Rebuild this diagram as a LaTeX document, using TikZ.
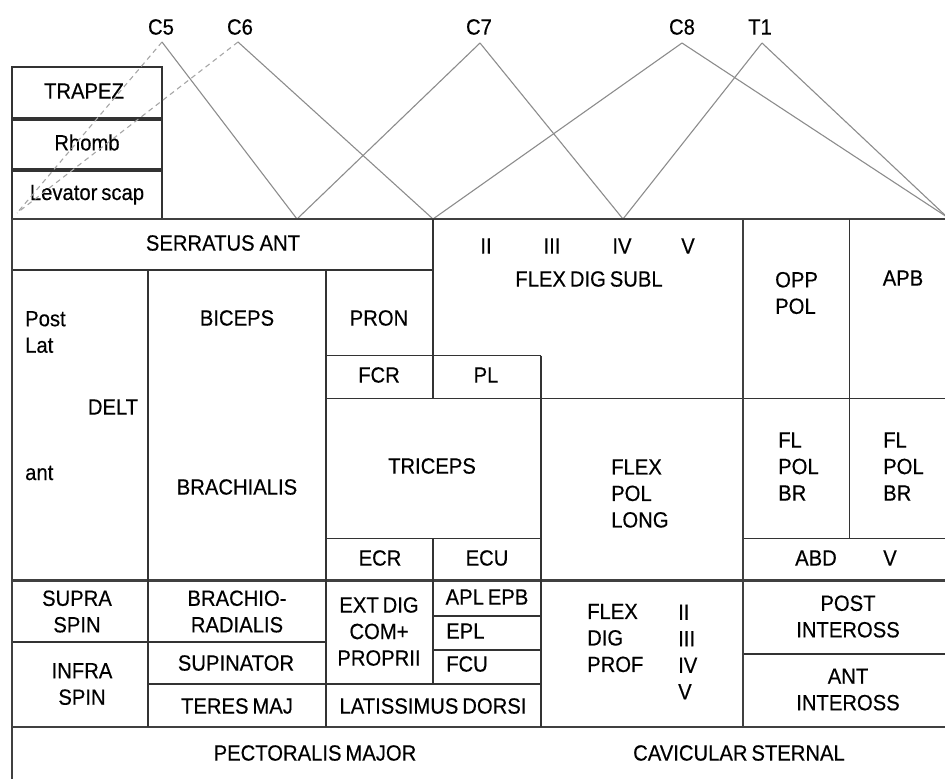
\documentclass[tikz,border=0pt]{standalone}
\usepackage{fontspec}
\setmainfont[FakeStretch=0.92,FakeBold=0.4,WordSpace=0.7]{Liberation Sans}
\begin{document}
\begin{tikzpicture}[x=1pt,y=-1pt,
  grid/.style={draw=black!80,line width=1.5pt},
  gridthick/.style={draw=black!75,line width=2.5pt},
  boxline/.style={draw=black!80,line width=2pt},
  root/.style={draw=black!45,line width=1.1pt},
  rootdash/.style={draw=black!35,line width=1.1pt,dash pattern=on 5pt off 4pt},
  lbl/.style={inner sep=0pt,font=\fontsize{22}{26.5}\selectfont,align=center},
  lbll/.style={lbl,align=left,anchor=west}]
\useasboundingbox (0,0) rectangle (945,779);
% segment labels
\node[lbl] (C5) at (161,27) {C5};
\node[lbl] (C6) at (240,27) {C6};
\node[lbl] (C7) at (479,27) {C7};
\node[lbl] (C8) at (682,27) {C8};
\node[lbl] (T1) at (760,27) {T1};
\coordinate (c5a) at (162,42);
\coordinate (c6a) at (238,42);
\coordinate (c7a) at (480,43);
\coordinate (c8a) at (682,43);
\coordinate (t1a) at (762,43);
\coordinate (eA) at (297,219);
\coordinate (eB) at (433,219);
\coordinate (eC) at (623,219);
\coordinate (eD) at (947,217);
\coordinate (eL) at (17,213);
% small boxes
\draw[boxline] (12,67) rectangle (162,117.5);
\draw[boxline] (12,120) rectangle (162,168.5);
\draw[boxline] (12,171) rectangle (162,219);
\node[lbl] (trapez) at (84,91) {TRAPEZ};
\node[lbl] (rhomb) at (87,142.5) {Rhomb};
\node[lbl,anchor=base] (levator) at (87,200) {Levator scap};
% root lines
\draw[rootdash] (c5a) -- (eL);
\draw[rootdash] (c6a) -- (eL);
\draw[root] (c5a) -- (eA);
\draw[root] (c6a) -- (eB);
\draw[root] (c7a) -- (eA);
\draw[root] (c7a) -- (eC);
\draw[root] (c8a) -- (eB);
\draw[root] (c8a) -- (eD);
\draw[root] (t1a) -- (eC);
\draw[root] (t1a) -- (eD);
% grid horizontals
\draw[gridthick] (12,219) -- (946,219);
\draw[grid] (12,270) -- (433,270);
\draw[grid] (326,355.5) -- (541,355.5);
\draw[grid] (326,398.5) -- (946,398.5);
\draw[grid] (326,538.5) -- (541,538.5);
\draw[grid] (743,538.5) -- (946,538.5);
\draw[gridthick] (12,580.5) -- (946,580.5);
\draw[grid] (433,616) -- (541,616);
\draw[grid] (433,650) -- (541,650);
\draw[grid] (12,642) -- (326,642);
\draw[grid] (743,654) -- (946,654);
\draw[grid] (148,684) -- (541,684);
\draw[gridthick] (12,727) -- (946,727);
% grid verticals
\draw[gridthick] (12,219) -- (12,779);
\draw[grid] (148,270) -- (148,727);
\draw[grid] (326,270) -- (326,727);
\draw[grid] (433,219) -- (433,398.5);
\draw[grid] (433,538.5) -- (433,684);
\draw[grid] (541,355.5) -- (541,727);
\draw[gridthick] (743,219) -- (743,727);
\draw[grid] (849.5,219) -- (849.5,538.5);
% muscle labels
\node[lbl] (serratus) at (223,243) {SERRATUS\hspace{5pt}ANT};
\node[lbll] (postlat) at (25,332) {Post\\Lat};
\node[lbl] (delt) at (113,407) {DELT};
\node[lbll] (ant) at (25,473) {ant};
\node[lbl] (biceps) at (237,318) {BICEPS};
\node[lbl] (brachialis) at (237,487) {BRACHIALIS};
\node[lbl] (pron) at (379,318) {PRON};
\node[lbl] (fcr) at (379,375) {FCR};
\node[lbl] (pl) at (486,375) {PL};
\node[lbl] (triceps) at (432,466) {TRICEPS};
\node[lbl] (ecr) at (380,558) {ECR};
\node[lbl] (ecu) at (487,558) {ECU};
\node[lbl] (n2) at (486,246) {II};
\node[lbl] (n3) at (552,246) {III};
\node[lbl] (n4) at (622,246) {IV};
\node[lbl] (n5) at (688,246) {V};
\node[lbl] (fds) at (589,279) {FLEX DIG SUBL};
\node[lbll] (fpl) at (611,493.5) {FLEX\\POL\\LONG};
\node[lbll] (opp) at (775,293) {OPP\\POL};
\node[lbl] (apb) at (903,278) {APB};
\node[lbll] (fpb1) at (778,466.5) {FL\\POL\\BR};
\node[lbll] (fpb2) at (883,466.5) {FL\\POL\\BR};
\node[lbl] (abd) at (816,558) {ABD};
\node[lbl] (abdv) at (890,558) {V};
\node[lbl] (supra) at (77,611.5) {SUPRA\\SPIN};
\node[lbl] (infra) at (82,684) {INFRA\\SPIN};
\node[lbl] (brachio) at (237,611.5) {BRACHIO-\\RADIALIS};
\node[lbl] (supinator) at (236,663) {SUPINATOR};
\node[lbl] (teres) at (237,706) {TERES MAJ};
\node[lbl] (extdig) at (379,631.5) {EXT DIG\\COM+\\PROPRII};
\node[lbl] (aplepb) at (487,597) {APL EPB};
\node[lbll] (epl) at (446,631) {EPL};
\node[lbll] (fcu) at (446,664) {FCU};
\node[lbl] (latdorsi) at (433,706) {LATISSIMUS DORSI};
\node[lbll] (fdp) at (587,638) {FLEX\\DIG\\PROF};
\node[lbll] (fdpn) at (678,652) {II\\III\\IV\\V};
\node[lbl] (postint) at (848,616.5) {POST\\INTEROSS};
\node[lbl] (antint) at (848,689.5) {ANT\\INTEROSS};
\node[lbl] (pect) at (315,753) {PECTORALIS MAJOR};
\node[lbl] (cavic) at (739,753) {CAVICULAR STERNAL};
\end{tikzpicture}
\end{document}
